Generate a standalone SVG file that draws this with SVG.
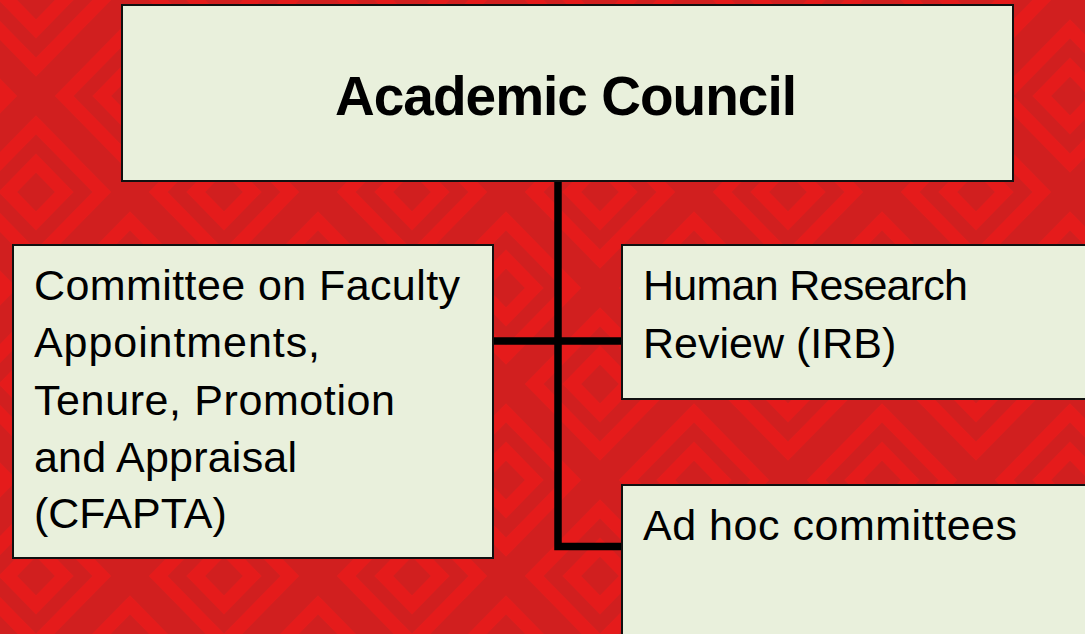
<svg xmlns="http://www.w3.org/2000/svg" xmlns:xlink="http://www.w3.org/1999/xlink" width="1085" height="634" viewBox="0 0 1085 634">
  <style>
    .box { fill: #E9F0DC; stroke: #111111; stroke-width: 2; }
    .t { font-family: "Liberation Sans", Arial, sans-serif; font-size: 43px; fill: #000000; }
    .title { font-family: "Liberation Sans", Arial, sans-serif; font-size: 55px; font-weight: bold; fill: #000000; }
    .conn { fill: none; stroke: #000000; stroke-width: 7.5; stroke-linejoin: miter; stroke-linecap: butt; }
    .lt { fill: #E51B1B; }
    .dk { fill: #D11F1F; }
  </style>
  <defs>
    <g id="dia">
      <polygon class="lt" points="0,-76.8 75.2,0 0,76.8 -75.2,0"/>
      <polygon class="dk" points="0,-57.6 56.4,0 0,57.6 -56.4,0"/>
      <polygon class="lt" points="0,-38.4 37.6,0 0,38.4 -37.6,0"/>
      <polygon class="dk" points="0,-19.2 18.8,0 0,19.2 -18.8,0"/>
    </g>
    <pattern id="bg" patternUnits="userSpaceOnUse" x="-58" y="-96" width="188" height="192">
      <rect class="dk" x="0" y="0" width="188" height="192"/>
      <use xlink:href="#dia" x="94" y="96"/>
      <use xlink:href="#dia" x="0" y="0"/>
      <use xlink:href="#dia" x="188" y="0"/>
      <use xlink:href="#dia" x="0" y="192"/>
      <use xlink:href="#dia" x="188" y="192"/>
    </pattern>
  </defs>

  <rect id="background" x="0" y="0" width="1085" height="634" fill="url(#bg)"/>

  <g id="connectors">
    <path class="conn" d="M558 181 V546.5 H623"/>
    <path class="conn" d="M493 341 H623"/>
  </g>

  <g id="academic-council">
    <rect class="box" x="122" y="5" width="891" height="176"/>
    <text class="title" x="335" y="115" textLength="462" lengthAdjust="spacing">Academic Council</text>
  </g>

  <g id="cfapta">
    <rect class="box" x="13" y="245" width="480" height="313"/>
    <text class="t" x="34" y="300" textLength="426" lengthAdjust="spacing">Committee on Faculty</text>
    <text class="t" x="34" y="357" textLength="286" lengthAdjust="spacing">Appointments,</text>
    <text class="t" x="34" y="415" textLength="361" lengthAdjust="spacing">Tenure, Promotion</text>
    <text class="t" x="34" y="472" textLength="263" lengthAdjust="spacing">and Appraisal</text>
    <text class="t" x="34" y="528">(CFAPTA)</text>
  </g>

  <g id="human-research">
    <rect class="box" x="622" y="245" width="480" height="154"/>
    <text class="t" x="643" y="300" textLength="325" lengthAdjust="spacing">Human Research</text>
    <text class="t" x="643" y="358">Review (IRB)</text>
  </g>

  <g id="ad-hoc">
    <rect class="box" x="622" y="485" width="480" height="170"/>
    <text class="t" x="643" y="540" textLength="374" lengthAdjust="spacing">Ad hoc committees</text>
  </g>
</svg>
